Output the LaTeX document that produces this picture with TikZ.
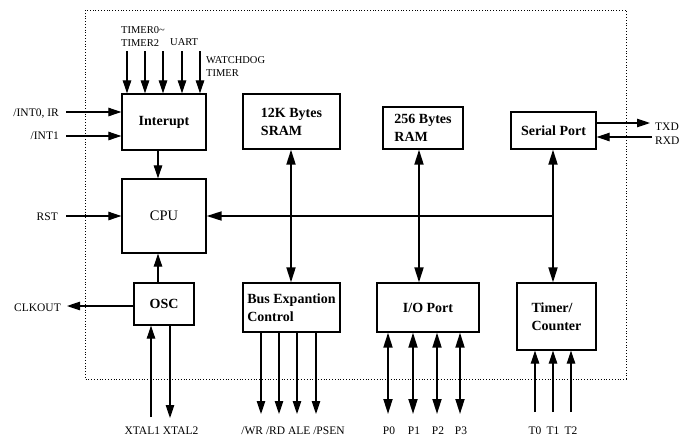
\documentclass[tikz,border=0pt]{standalone}
\usepackage{fontspec}
\setmainfont{Liberation Serif}
\usetikzlibrary{arrows.meta}
\begin{document}
\begin{tikzpicture}[x=1pt,y=-1pt,
  blk/.style={draw,line width=1.3pt,inner sep=0pt,align=left,
    font=\fontsize{14}{18}\selectfont\bfseries},
  lbl/.style={inner sep=0pt,font=\fontsize{11.5}{13}\selectfont},
  toplbl/.style={inner sep=0pt,align=left,font=\fontsize{10.5}{13}\selectfont},
  thin/.style={line width=1.1pt,-{Triangle[length=13pt,width=8.5pt]}},
  fat/.style={line width=1.8pt,-{Triangle[length=15pt,width=9pt]}},
  fatboth/.style={line width=1.8pt,{Triangle[length=15pt,width=9pt]}-{Triangle[length=15pt,width=9pt]}}]
\useasboundingbox (0,0) rectangle (690,437);
\fill[white] (0,0) rectangle (690,437);
\draw[dotted,line width=0.8pt] (85,10) rectangle (626,379);

% blocks
\node[blk,minimum width=84pt,minimum height=56pt] (int) at (164,122) {Interupt};
\node[blk,minimum width=84pt,minimum height=74pt,font=\fontsize{14.5}{18}\selectfont] (cpu) at (164,216) {CPU};
\node[blk,minimum width=60pt,minimum height=42pt] (osc) at (164,304) {OSC};
\node[blk,minimum width=97pt,minimum height=55pt] (sram) at (291.5,121.5) {12K Bytes\\SRAM};
\node[blk,minimum width=97pt,minimum height=49pt] (bus) at (291.5,307.5) {Bus Expantion\\Control};
\node[blk,minimum width=80pt,minimum height=42pt] (ram) at (423,128) {256 Bytes\\RAM};
\node[blk,minimum width=102pt,minimum height=49pt] (io) at (428,307.5) {I/O Port};
\node[blk,minimum width=85pt,minimum height=37pt] (ser) at (553.5,130.5) {Serial Port};
\node[blk,minimum width=79pt,minimum height=67pt] (tim) at (556.5,316.5) {Timer/\\Counter};

% top interrupt sources
\node[toplbl,anchor=west] (ltim) at (121,36.5) {TIMER0\textasciitilde\\TIMER2};
\node[toplbl,anchor=west] (luart) at (170,42.5) {UART};
\node[toplbl,anchor=west] (lwd) at (206,66.5) {WATCHDOG\\TIMER};
\foreach \x in {127,145,163,182,200}
  \draw[thin] (\x,51) -- (int.north -| \x,0);

% left inputs
\node[lbl,anchor=east] (lint0) at (59,114) {/INT0, IR};
\node[lbl,anchor=east] (lint1) at (59,136) {/INT1};
\node[lbl,anchor=east] (lrst) at (58,217) {RST};
\node[lbl,anchor=east] (lclk) at (61,308) {CLKOUT};
\coordinate (i0) at (66,112);
\coordinate (i1) at (66,136);
\coordinate (rs) at (66,216);
\coordinate (ck) at (67,306);
\draw[thin] (i0) -- (i0 -| int.west);
\draw[thin] (i1) -- (i1 -| int.west);
\draw[thin] (rs) -- (rs -| cpu.west);
\draw[thin] (osc.west |- ck) -- (ck);

% internal
\draw[thin] (int.south -| 158,0) -- (cpu.north -| 158,0);
\draw[thin] (osc.north -| 158,0) -- (cpu.south -| 158,0);
\coordinate (bj) at (553,216);
\draw[fat] (bj) -- (cpu.east |- bj);
\draw[fatboth] (sram.south -| 291,0) -- (bus.north -| 291,0);
\draw[fatboth] (ram.south -| 419,0) -- (io.north -| 419,0);
\draw[fatboth] (ser.south -| 553,0) -- (tim.north -| 553,0);

% xtal
\node[lbl] (lxt) at (161.5,431) {XTAL1 XTAL2};
\draw[thin] (151,417) -- (osc.south -| 151,0);
\draw[thin] (osc.south -| 170,0) -- (170,418);

% bus expansion outputs
\node[lbl] (lbus) at (293,431) {/WR /RD ALE /PSEN};
\foreach \x in {261,279,297,316}
  \draw[thin] (bus.south -| \x,0) -- (\x,414);

% io ports
\foreach \x/\t in {388/P0,413/P1,437/P2,460/P3} {
  \node[lbl] (l\t) at (\x+1,431) {\t};
  \draw[fatboth] (io.south -| \x,0) -- (\x,414);
}

% timer inputs
\foreach \x/\t in {535/T0,553/T1,571/T2} {
  \node[lbl] (l\t) at (\x,431) {\t};
  \draw[thin] (\x,412) -- (tim.south -| \x,0);
}

% serial
\node[lbl,anchor=west] (ltxd) at (655,127) {TXD};
\node[lbl,anchor=west] (lrxd) at (655,141) {RXD};
\coordinate (tx) at (650,123);
\coordinate (rx) at (652,137);
\draw[thin] (ser.east |- tx) -- (tx);
\draw[thin] (rx) -- (ser.east |- rx);
\end{tikzpicture}
\end{document}
